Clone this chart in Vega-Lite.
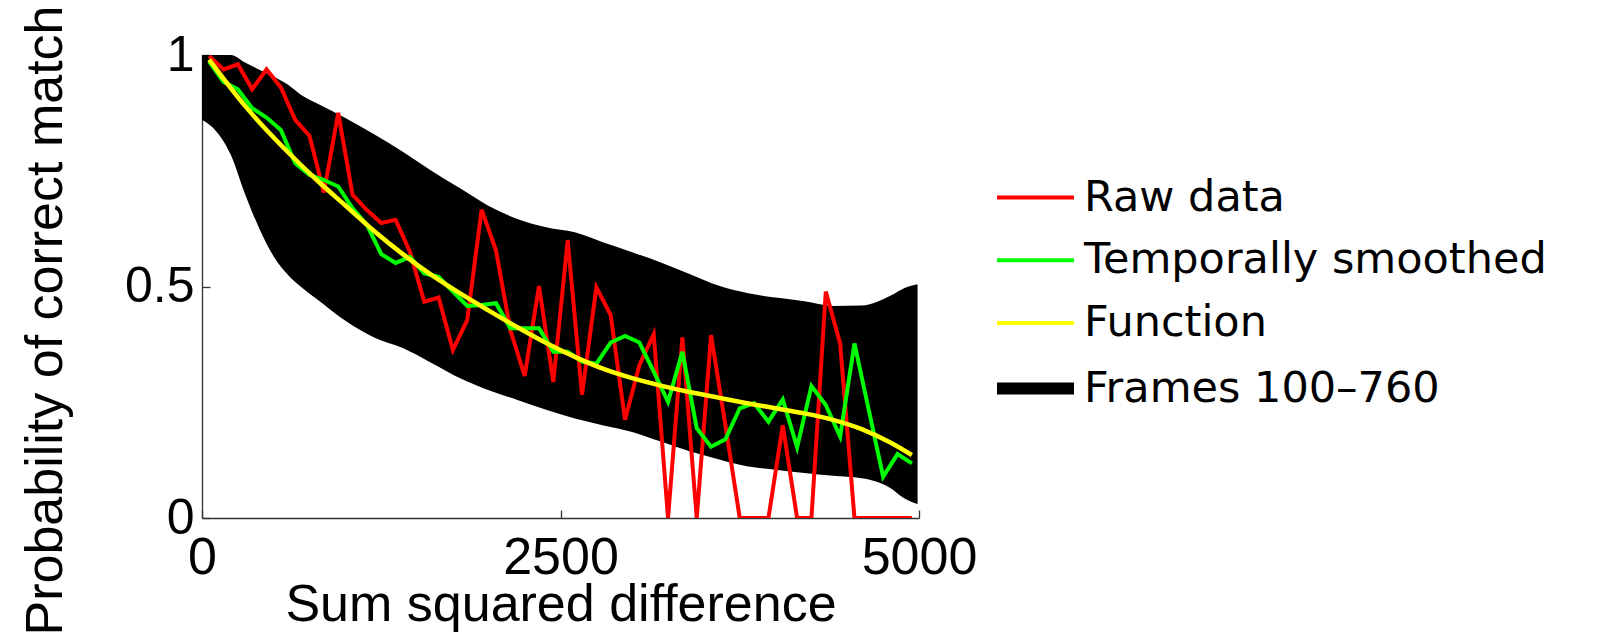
{
  "$schema": "https://vega.github.io/schema/vega-lite/v6.json",
  "width": 717,
  "height": 463,
  "autosize": "none",
  "padding": {"left": 202, "top": 55, "right": 684, "bottom": 118},
  "background": "white",
  "config": {
    "view": {"stroke": null},
    "font": "Liberation Sans",
    "axis": {
      "grid": false,
      "domainColor": "#333333",
      "domainWidth": 1.3,
      "tickColor": "#333333",
      "tickWidth": 1.3,
      "tickSize": -8,
      "labelFont": "Liberation Sans",
      "labelFontSize": 50,
      "labelColor": "#000000",
      "titleFont": "Liberation Sans",
      "titleFontSize": 52,
      "titleFontWeight": "normal",
      "titleColor": "#000000"
    }
  },
  "datasets": {
    "band": [
      {"x": 0, "lo": 0.86, "hi": 1.0, "series": "Frames 100–760"},
      {"x": 100, "lo": 0.835, "hi": 1.0, "series": "Frames 100–760"},
      {"x": 200, "lo": 0.785, "hi": 1.0, "series": "Frames 100–760"},
      {"x": 300, "lo": 0.70, "hi": 0.984, "series": "Frames 100–760"},
      {"x": 400, "lo": 0.625, "hi": 0.968, "series": "Frames 100–760"},
      {"x": 500, "lo": 0.565, "hi": 0.953, "series": "Frames 100–760"},
      {"x": 600, "lo": 0.525, "hi": 0.936, "series": "Frames 100–760"},
      {"x": 700, "lo": 0.497, "hi": 0.912, "series": "Frames 100–760"},
      {"x": 800, "lo": 0.473, "hi": 0.896, "series": "Frames 100–760"},
      {"x": 1000, "lo": 0.426, "hi": 0.864, "series": "Frames 100–760"},
      {"x": 1200, "lo": 0.39, "hi": 0.829, "series": "Frames 100–760"},
      {"x": 1400, "lo": 0.367, "hi": 0.791, "series": "Frames 100–760"},
      {"x": 1600, "lo": 0.335, "hi": 0.75, "series": "Frames 100–760"},
      {"x": 1800, "lo": 0.302, "hi": 0.712, "series": "Frames 100–760"},
      {"x": 2000, "lo": 0.276, "hi": 0.674, "series": "Frames 100–760"},
      {"x": 2200, "lo": 0.255, "hi": 0.646, "series": "Frames 100–760"},
      {"x": 2400, "lo": 0.234, "hi": 0.628, "series": "Frames 100–760"},
      {"x": 2600, "lo": 0.215, "hi": 0.617, "series": "Frames 100–760"},
      {"x": 2800, "lo": 0.2, "hi": 0.595, "series": "Frames 100–760"},
      {"x": 3000, "lo": 0.186, "hi": 0.574, "series": "Frames 100–760"},
      {"x": 3200, "lo": 0.165, "hi": 0.552, "series": "Frames 100–760"},
      {"x": 3400, "lo": 0.144, "hi": 0.527, "series": "Frames 100–760"},
      {"x": 3600, "lo": 0.127, "hi": 0.502, "series": "Frames 100–760"},
      {"x": 3800, "lo": 0.112, "hi": 0.486, "series": "Frames 100–760"},
      {"x": 4000, "lo": 0.104, "hi": 0.476, "series": "Frames 100–760"},
      {"x": 4200, "lo": 0.097, "hi": 0.468, "series": "Frames 100–760"},
      {"x": 4400, "lo": 0.091, "hi": 0.458, "series": "Frames 100–760"},
      {"x": 4600, "lo": 0.086, "hi": 0.459, "series": "Frames 100–760"},
      {"x": 4800, "lo": 0.065, "hi": 0.48, "series": "Frames 100–760"},
      {"x": 4900, "lo": 0.042, "hi": 0.497, "series": "Frames 100–760"},
      {"x": 4990, "lo": 0.03, "hi": 0.505, "series": "Frames 100–760"}
    ],
    "raw": [
      {"x": 50, "p": 0.998, "series": "Raw data"},
      {"x": 150, "p": 0.969, "series": "Raw data"},
      {"x": 250, "p": 0.98, "series": "Raw data"},
      {"x": 350, "p": 0.926, "series": "Raw data"},
      {"x": 450, "p": 0.969, "series": "Raw data"},
      {"x": 550, "p": 0.93, "series": "Raw data"},
      {"x": 650, "p": 0.86, "series": "Raw data"},
      {"x": 750, "p": 0.825, "series": "Raw data"},
      {"x": 850, "p": 0.703, "series": "Raw data"},
      {"x": 950, "p": 0.875, "series": "Raw data"},
      {"x": 1050, "p": 0.698, "series": "Raw data"},
      {"x": 1150, "p": 0.665, "series": "Raw data"},
      {"x": 1250, "p": 0.637, "series": "Raw data"},
      {"x": 1350, "p": 0.644, "series": "Raw data"},
      {"x": 1450, "p": 0.575, "series": "Raw data"},
      {"x": 1550, "p": 0.467, "series": "Raw data"},
      {"x": 1650, "p": 0.476, "series": "Raw data"},
      {"x": 1750, "p": 0.363, "series": "Raw data"},
      {"x": 1850, "p": 0.428, "series": "Raw data"},
      {"x": 1950, "p": 0.666, "series": "Raw data"},
      {"x": 2050, "p": 0.578, "series": "Raw data"},
      {"x": 2150, "p": 0.406, "series": "Raw data"},
      {"x": 2250, "p": 0.307, "series": "Raw data"},
      {"x": 2350, "p": 0.501, "series": "Raw data"},
      {"x": 2450, "p": 0.294, "series": "Raw data"},
      {"x": 2550, "p": 0.6, "series": "Raw data"},
      {"x": 2650, "p": 0.266, "series": "Raw data"},
      {"x": 2750, "p": 0.498, "series": "Raw data"},
      {"x": 2850, "p": 0.438, "series": "Raw data"},
      {"x": 2950, "p": 0.212, "series": "Raw data"},
      {"x": 3050, "p": 0.33, "series": "Raw data"},
      {"x": 3150, "p": 0.397, "series": "Raw data"},
      {"x": 3250, "p": 0.0, "series": "Raw data"},
      {"x": 3350, "p": 0.39, "series": "Raw data"},
      {"x": 3450, "p": 0.0, "series": "Raw data"},
      {"x": 3550, "p": 0.395, "series": "Raw data"},
      {"x": 3650, "p": 0.2, "series": "Raw data"},
      {"x": 3750, "p": 0.0, "series": "Raw data"},
      {"x": 3850, "p": 0.0, "series": "Raw data"},
      {"x": 3950, "p": 0.0, "series": "Raw data"},
      {"x": 4050, "p": 0.2, "series": "Raw data"},
      {"x": 4150, "p": 0.0, "series": "Raw data"},
      {"x": 4250, "p": 0.0, "series": "Raw data"},
      {"x": 4350, "p": 0.489, "series": "Raw data"},
      {"x": 4450, "p": 0.377, "series": "Raw data"},
      {"x": 4550, "p": 0.0, "series": "Raw data"},
      {"x": 4650, "p": 0.0, "series": "Raw data"},
      {"x": 4750, "p": 0.0, "series": "Raw data"},
      {"x": 4850, "p": 0.0, "series": "Raw data"},
      {"x": 4950, "p": 0.0, "series": "Raw data"}
    ],
    "smooth": [
      {"x": 50, "p": 0.986, "series": "Temporally smoothed"},
      {"x": 150, "p": 0.942, "series": "Temporally smoothed"},
      {"x": 250, "p": 0.926, "series": "Temporally smoothed"},
      {"x": 350, "p": 0.885, "series": "Temporally smoothed"},
      {"x": 450, "p": 0.865, "series": "Temporally smoothed"},
      {"x": 550, "p": 0.838, "series": "Temporally smoothed"},
      {"x": 650, "p": 0.766, "series": "Temporally smoothed"},
      {"x": 750, "p": 0.741, "series": "Temporally smoothed"},
      {"x": 850, "p": 0.73, "series": "Temporally smoothed"},
      {"x": 950, "p": 0.716, "series": "Temporally smoothed"},
      {"x": 1050, "p": 0.669, "series": "Temporally smoothed"},
      {"x": 1150, "p": 0.633, "series": "Temporally smoothed"},
      {"x": 1250, "p": 0.57, "series": "Temporally smoothed"},
      {"x": 1350, "p": 0.551, "series": "Temporally smoothed"},
      {"x": 1450, "p": 0.564, "series": "Temporally smoothed"},
      {"x": 1550, "p": 0.528, "series": "Temporally smoothed"},
      {"x": 1650, "p": 0.521, "series": "Temporally smoothed"},
      {"x": 1750, "p": 0.489, "series": "Temporally smoothed"},
      {"x": 1850, "p": 0.458, "series": "Temporally smoothed"},
      {"x": 1950, "p": 0.46, "series": "Temporally smoothed"},
      {"x": 2050, "p": 0.464, "series": "Temporally smoothed"},
      {"x": 2150, "p": 0.41, "series": "Temporally smoothed"},
      {"x": 2250, "p": 0.41, "series": "Temporally smoothed"},
      {"x": 2350, "p": 0.41, "series": "Temporally smoothed"},
      {"x": 2450, "p": 0.359, "series": "Temporally smoothed"},
      {"x": 2550, "p": 0.359, "series": "Temporally smoothed"},
      {"x": 2650, "p": 0.338, "series": "Temporally smoothed"},
      {"x": 2750, "p": 0.333, "series": "Temporally smoothed"},
      {"x": 2850, "p": 0.379, "series": "Temporally smoothed"},
      {"x": 2950, "p": 0.393, "series": "Temporally smoothed"},
      {"x": 3050, "p": 0.379, "series": "Temporally smoothed"},
      {"x": 3150, "p": 0.316, "series": "Temporally smoothed"},
      {"x": 3250, "p": 0.251, "series": "Temporally smoothed"},
      {"x": 3350, "p": 0.359, "series": "Temporally smoothed"},
      {"x": 3450, "p": 0.194, "series": "Temporally smoothed"},
      {"x": 3550, "p": 0.154, "series": "Temporally smoothed"},
      {"x": 3650, "p": 0.17, "series": "Temporally smoothed"},
      {"x": 3750, "p": 0.237, "series": "Temporally smoothed"},
      {"x": 3850, "p": 0.248, "series": "Temporally smoothed"},
      {"x": 3950, "p": 0.208, "series": "Temporally smoothed"},
      {"x": 4050, "p": 0.256, "series": "Temporally smoothed"},
      {"x": 4150, "p": 0.153, "series": "Temporally smoothed"},
      {"x": 4250, "p": 0.285, "series": "Temporally smoothed"},
      {"x": 4350, "p": 0.244, "series": "Temporally smoothed"},
      {"x": 4450, "p": 0.176, "series": "Temporally smoothed"},
      {"x": 4550, "p": 0.377, "series": "Temporally smoothed"},
      {"x": 4650, "p": 0.233, "series": "Temporally smoothed"},
      {"x": 4750, "p": 0.089, "series": "Temporally smoothed"},
      {"x": 4850, "p": 0.138, "series": "Temporally smoothed"},
      {"x": 4950, "p": 0.118, "series": "Temporally smoothed"}
    ],
    "func": [
      {"x": 50, "p": 0.99, "series": "Function"},
      {"x": 300, "p": 0.89, "series": "Function"},
      {"x": 600, "p": 0.79, "series": "Function"},
      {"x": 800, "p": 0.73, "series": "Function"},
      {"x": 1000, "p": 0.675, "series": "Function"},
      {"x": 1200, "p": 0.62, "series": "Function"},
      {"x": 1400, "p": 0.57, "series": "Function"},
      {"x": 1600, "p": 0.525, "series": "Function"},
      {"x": 1800, "p": 0.485, "series": "Function"},
      {"x": 2000, "p": 0.448, "series": "Function"},
      {"x": 2200, "p": 0.412, "series": "Function"},
      {"x": 2400, "p": 0.378, "series": "Function"},
      {"x": 2600, "p": 0.348, "series": "Function"},
      {"x": 2800, "p": 0.322, "series": "Function"},
      {"x": 3000, "p": 0.302, "series": "Function"},
      {"x": 3200, "p": 0.286, "series": "Function"},
      {"x": 3400, "p": 0.272, "series": "Function"},
      {"x": 3600, "p": 0.26, "series": "Function"},
      {"x": 3800, "p": 0.248, "series": "Function"},
      {"x": 4000, "p": 0.237, "series": "Function"},
      {"x": 4200, "p": 0.226, "series": "Function"},
      {"x": 4400, "p": 0.212, "series": "Function"},
      {"x": 4600, "p": 0.192, "series": "Function"},
      {"x": 4800, "p": 0.163, "series": "Function"},
      {"x": 4950, "p": 0.136, "series": "Function"}
    ]
  },
  "encoding": {
    "x": {
      "field": "x",
      "type": "quantitative",
      "scale": {"domain": [0, 5000], "nice": false, "zero": false},
      "axis": {
        "values": [0, 2500, 5000],
        "format": "d",
        "labelFlush": false,
        "labelFontSize": 52,
        "labelPadding": 22,
        "title": "Sum squared difference",
        "titlePadding": -4
      }
    }
  },
  "layer": [
    {
      "data": {"name": "band"},
      "mark": {"type": "area", "interpolate": "monotone", "clip": true},
      "encoding": {
        "y": {
          "field": "lo",
          "type": "quantitative",
          "scale": {"domain": [0, 1], "nice": false},
          "axis": {
            "values": [0, 0.5, 1],
            "format": "~g",
            "labelPadding": 16,
            "title": "Probability of correct match",
            "titleAngle": -90,
            "titleBaseline": "alphabetic",
            "titleAlign": "center",
            "titleX": -141,
            "titleY": 265
          }
        },
        "y2": {"field": "hi"},
        "color": {
          "field": "series",
          "type": "nominal",
          "scale": {
            "domain": ["Raw data", "Temporally smoothed", "Function", "Frames 100–760"],
            "range": ["#ff0000", "#00ff00", "#ffff00", "#000000"]
          },
          "legend": {
            "orient": "none",
            "legendX": 812,
            "legendY": 121,
            "title": null,
            "padding": 0,
            "symbolType": "M-2,0H2",
            "symbolSize": 1482,
            "symbolStrokeWidth": 4,
            "symbolFillColor": "transparent",
            "labelOffset": 27,
            "labelFont": "DejaVu Sans",
            "labelFontSize": 43,
            "labelColor": "#000000",
            "labelLimit": 1000,
            "rowPadding": 18.7,
            "encode": {
              "symbols": {
                "update": {
                  "stroke": {"scale": "color", "field": "value"},
                  "fill": {"value": "transparent"},
                  "strokeWidth": {"signal": "datum.value === 'Frames 100–760' ? 12 : 4"}
                }
              }
            }
          }
        }
      }
    },
    {
      "data": {"name": "raw"},
      "mark": {"type": "line", "strokeWidth": 4, "clip": true},
      "encoding": {
        "y": {"field": "p", "type": "quantitative"},
        "color": {"field": "series", "type": "nominal"}
      }
    },
    {
      "data": {"name": "smooth"},
      "mark": {"type": "line", "strokeWidth": 4, "clip": true},
      "encoding": {
        "y": {"field": "p", "type": "quantitative"},
        "color": {"field": "series", "type": "nominal"}
      }
    },
    {
      "data": {"name": "func"},
      "mark": {"type": "line", "strokeWidth": 4.5, "interpolate": "monotone", "clip": true},
      "encoding": {
        "y": {"field": "p", "type": "quantitative"},
        "color": {"field": "series", "type": "nominal"}
      }
    }
  ]
}
